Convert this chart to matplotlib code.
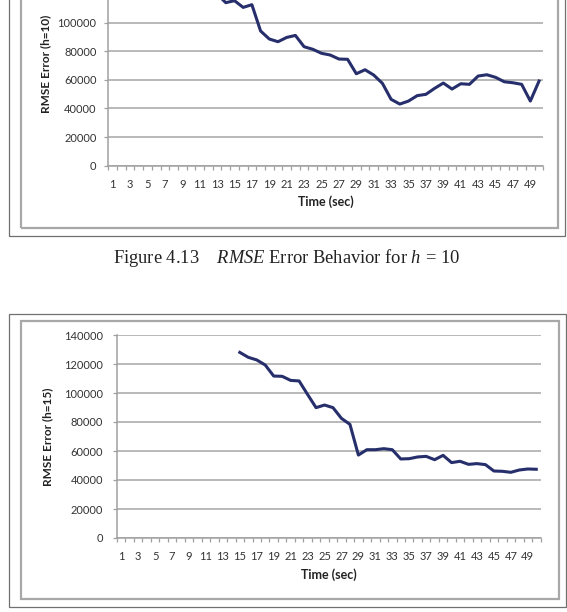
import matplotlib
matplotlib.use("Agg")
import matplotlib.pyplot as plt
from matplotlib.patches import Rectangle

# h = 10 series (top chart, cut off at the top of the page)
t10 = list(range(13, 51))
rmse10 = [120000, 114000, 115400, 110700, 112600, 94200, 88600, 86700, 89700, 91100,
          83200, 81400, 78600, 77400, 74600, 74400, 64300, 67100, 63400, 57600,
          46400, 43100, 45200, 49000, 49900, 54100, 57800, 53600, 57300, 56900,
          62700, 63600, 61800, 58700, 58000, 56900, 45200, 59200]

# h = 15 series (bottom chart)
t15 = list(range(15, 51))
rmse15 = [128000, 124600, 122800, 119300, 111700, 111500, 108700, 108300, 99000, 89900,
          91700, 89900, 82500, 78400, 57200, 60900, 60900, 61600, 60900, 54500,
          54700, 55900, 56300, 54000, 57000, 52000, 52900, 50800, 51300, 50600,
          46200, 46000, 45300, 46900, 47600, 47400]

yticks_top = [0, 20000, 40000, 60000, 80000, 100000]   # higher ones are cut off the page
yticks = [0, 20000, 40000, 60000, 80000, 100000, 120000, 140000]
xlabels = list(range(1, 51, 2))

W, H = 567, 612
plt.rcParams['font.family'] = ['Lato', 'DejaVu Sans']
plt.rcParams['mathtext.fontset'] = 'custom'
plt.rcParams['mathtext.rm'] = 'Liberation Serif'
plt.rcParams['mathtext.it'] = 'Liberation Serif:italic'

fig = plt.figure(figsize=(W / 100, H / 100), dpi=100)
fig.patch.set_facecolor('white')

def fx(x):
    return x / W

def fy(y):
    return 1 - y / H

def frame(x0, y0, x1, y1):
    # outer thin dark border and inner lighter, thicker border (scan look)
    fig.add_artist(Rectangle((fx(x0), fy(y1)), fx(x1) - fx(x0), fy(y0) - fy(y1),
                             transform=fig.transFigure, fill=False,
                             edgecolor='#707070', lw=0.9))
    fig.add_artist(Rectangle((fx(x0 + 11.7), fy(y1 - 8)), fx(x1 - 7) - fx(x0 + 11.7),
                             fy(y0 + 7) - fy(y1 - 8),
                             transform=fig.transFigure, fill=False,
                             edgecolor='#a8a8a8', lw=1.6))

def chart(left, right, ybase, ytop, t, vals, ticks, ylab, lab_x, lab_y, tlab_x, tlab_y, ypad):
    ax = fig.add_axes([fx(left), fy(ybase), fx(right) - fx(left), fy(ytop) - fy(ybase)])
    ax.plot(t, vals, color='#262f6b', lw=2.2, solid_joinstyle='round')
    ax.set_xlim(0.5, 50.5)
    ax.set_ylim(0, 140000)
    ax.set_yticks(ticks)
    ax.set_yticklabels([str(v) for v in ticks])
    ax.grid(axis='y', color='#a6a6a6', lw=1.1)
    ax.set_axisbelow(True)
    for s in ['top', 'right']:
        ax.spines[s].set_visible(False)
    for s in ['left', 'bottom']:
        ax.spines[s].set_color('#a0a0a0')
        ax.spines[s].set_linewidth(1.1)
    ax.set_xticks([i + 0.5 for i in range(0, 51)])
    ax.set_xticklabels([])
    ax.set_xticks(xlabels, minor=True)
    ax.set_xticklabels([str(v) for v in xlabels], minor=True)
    ax.tick_params(axis='x', which='major', length=3, width=0.9, color='#a0a0a0')
    ax.tick_params(axis='x', which='minor', length=0, pad=9.5, labelsize=8, labelcolor='#333333')
    ax.tick_params(axis='y', length=3, width=0.9, color='#a0a0a0', pad=ypad,
                   labelsize=8, labelcolor='#333333')
    fig.text(fx(lab_x), fy(lab_y), ylab, rotation=90, ha='center', va='center',
             fontsize=8.5, fontweight='bold', color='#222222')
    fig.text(fx(tlab_x), fy(tlab_y), 'Time (sec)', ha='center', va='center',
             fontsize=9, fontweight='bold', color='#222222')
    return ax

# top chart (h = 10)
frame(9, -20, 565, 236)
chart(108.3, 543.4, 165.7, 165.7 - 200.2, t10, rmse10, yticks_top, 'RMSE Error (h=10)',
      46, 64, 326, 202, 5.5)

fig.text(fx(287), fy(258), r'Figure 4.13    $\mathit{RMSE}$ Error Behavior for $h\,=\,10$',
         ha='center', va='center', fontsize=13.3, family='Liberation Serif', color='#222222')

# bottom chart (h = 15)
frame(9, 314, 566, 607)
chart(117, 540.5, 538, 335, t15, rmse15, yticks, 'RMSE Error (h=15)',
      48, 437, 329, 575, 7)

fig.savefig('out.png', dpi=100, facecolor='white')
